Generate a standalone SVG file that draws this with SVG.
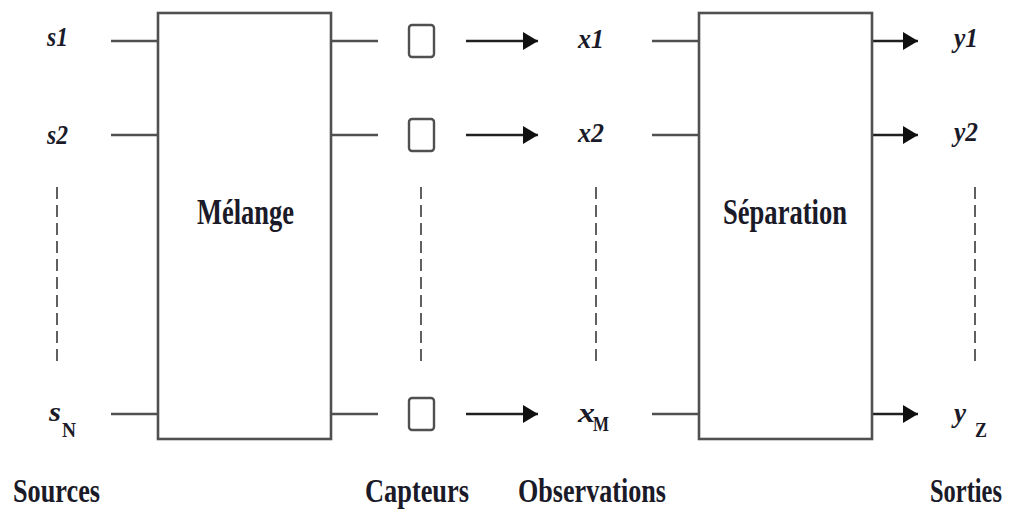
<svg xmlns="http://www.w3.org/2000/svg" width="1011" height="514" viewBox="0 0 1011 514">
<style>
.box{fill:#fff;stroke:#505050;stroke-width:2.6}
.sen{fill:#fff;stroke:#505050;stroke-width:2.4}
.ln{stroke:#505050;stroke-width:2.6;fill:none}
.ar{stroke:#202020;stroke-width:2.6;fill:none}
.dash{stroke:#606060;stroke-width:2;stroke-dasharray:12 6;fill:none}
.lab{font-family:"Liberation Serif",serif;font-weight:bold;font-style:italic;font-size:27px;fill:#1a1a28}
.sub{font-family:"Liberation Serif",serif;font-weight:bold;font-size:21px;fill:#1a1a28}
.big{font-family:"Liberation Serif",serif;font-weight:bold;font-size:36px;fill:#1a1a28}
.bot{font-family:"Liberation Serif",serif;font-weight:bold;font-size:33px;fill:#1a1a28}
.bots{font-family:"Liberation Serif",serif;font-weight:bold;font-size:25px;fill:#1a1a28}
</style>
<defs>
<marker id="ah" markerUnits="userSpaceOnUse" markerWidth="16" markerHeight="18" refX="15" refY="9" orient="auto">
<path d="M0,0 L15,9 L0,18 Z" fill="#101010"/>
</marker>
</defs>
<rect width="1011" height="514" fill="#fff"/>
<g id="connectors">
<line class="ln" x1="111" y1="41" x2="158" y2="41"/>
<line class="ln" x1="111" y1="135" x2="158" y2="135"/>
<line class="ln" x1="111" y1="414" x2="158" y2="414"/>
<line class="ln" x1="331" y1="41" x2="378" y2="41"/>
<line class="ln" x1="331" y1="135" x2="378" y2="135"/>
<line class="ln" x1="331" y1="414" x2="378" y2="414"/>
<line class="ar" x1="466" y1="41" x2="538" y2="41" marker-end="url(#ah)"/>
<line class="ar" x1="466" y1="135" x2="538" y2="135" marker-end="url(#ah)"/>
<line class="ar" x1="466" y1="414" x2="538" y2="414" marker-end="url(#ah)"/>
<line class="ln" x1="652" y1="41" x2="699" y2="41"/>
<line class="ln" x1="652" y1="135" x2="699" y2="135"/>
<line class="ln" x1="652" y1="414" x2="699" y2="414"/>
<line class="ar" x1="872" y1="41" x2="918" y2="41" marker-end="url(#ah)"/>
<line class="ar" x1="872" y1="135" x2="918" y2="135" marker-end="url(#ah)"/>
<line class="ar" x1="872" y1="414" x2="918" y2="414" marker-end="url(#ah)"/>
<line class="dash" x1="57" y1="187" x2="57" y2="362"/>
<line class="dash" x1="421" y1="187" x2="421" y2="362"/>
<line class="dash" x1="596" y1="187" x2="596" y2="362"/>
<line class="dash" x1="975" y1="187" x2="975" y2="362"/>
</g>
<g id="melange">
<rect class="box" x="158" y="13" width="173" height="426"/>
<text class="big" x="197" y="224" textLength="97" lengthAdjust="spacingAndGlyphs">Mélange</text>
</g>
<g id="separation">
<rect class="box" x="699" y="13" width="173" height="426"/>
<text class="big" x="723" y="224" textLength="124" lengthAdjust="spacingAndGlyphs">Séparation</text>
</g>
<g id="capteurs">
<rect class="sen" x="409" y="25" width="25" height="32" rx="3"/>
<rect class="sen" x="409" y="119" width="25" height="32" rx="3"/>
<rect class="sen" x="409" y="398" width="25" height="32" rx="3"/>
</g>
<g id="sources">
<text class="lab" x="47" y="46" textLength="21" lengthAdjust="spacingAndGlyphs">s1</text>
<text class="lab" x="47" y="144" textLength="21" lengthAdjust="spacingAndGlyphs">s2</text>
<text class="lab" x="49" y="421" textLength="12" lengthAdjust="spacingAndGlyphs">s</text>
<text class="sub" x="62" y="437" textLength="14" lengthAdjust="spacingAndGlyphs">N</text>
</g>
<g id="observations">
<text class="lab" x="578" y="48" textLength="26" lengthAdjust="spacingAndGlyphs">x1</text>
<text class="lab" x="578" y="142" textLength="26" lengthAdjust="spacingAndGlyphs">x2</text>
<text class="lab" x="578" y="422" textLength="17" lengthAdjust="spacingAndGlyphs">x</text>
<text class="sub" x="593" y="431" textLength="16" lengthAdjust="spacingAndGlyphs">M</text>
</g>
<g id="sorties">
<text class="lab" x="954" y="47" textLength="24" lengthAdjust="spacingAndGlyphs">y1</text>
<text class="lab" x="954" y="141" textLength="24" lengthAdjust="spacingAndGlyphs">y2</text>
<text class="lab" x="954" y="422" textLength="12" lengthAdjust="spacingAndGlyphs">y</text>
<text class="sub" x="975" y="437" textLength="12" lengthAdjust="spacingAndGlyphs">Z</text>
</g>
<g id="bottom-labels">
<text class="bot" x="13" y="502" textLength="87" lengthAdjust="spacingAndGlyphs">Sources</text>
<text class="bot" x="365" y="502" textLength="104" lengthAdjust="spacingAndGlyphs">Capteurs</text>
<text class="bot" x="518" y="502" textLength="148" lengthAdjust="spacingAndGlyphs">Observations</text>
<text class="bots" transform="translate(930,502) scale(1,1.32)" x="0" y="0" textLength="72" lengthAdjust="spacingAndGlyphs">Sorties</text>
</g>
</svg>
